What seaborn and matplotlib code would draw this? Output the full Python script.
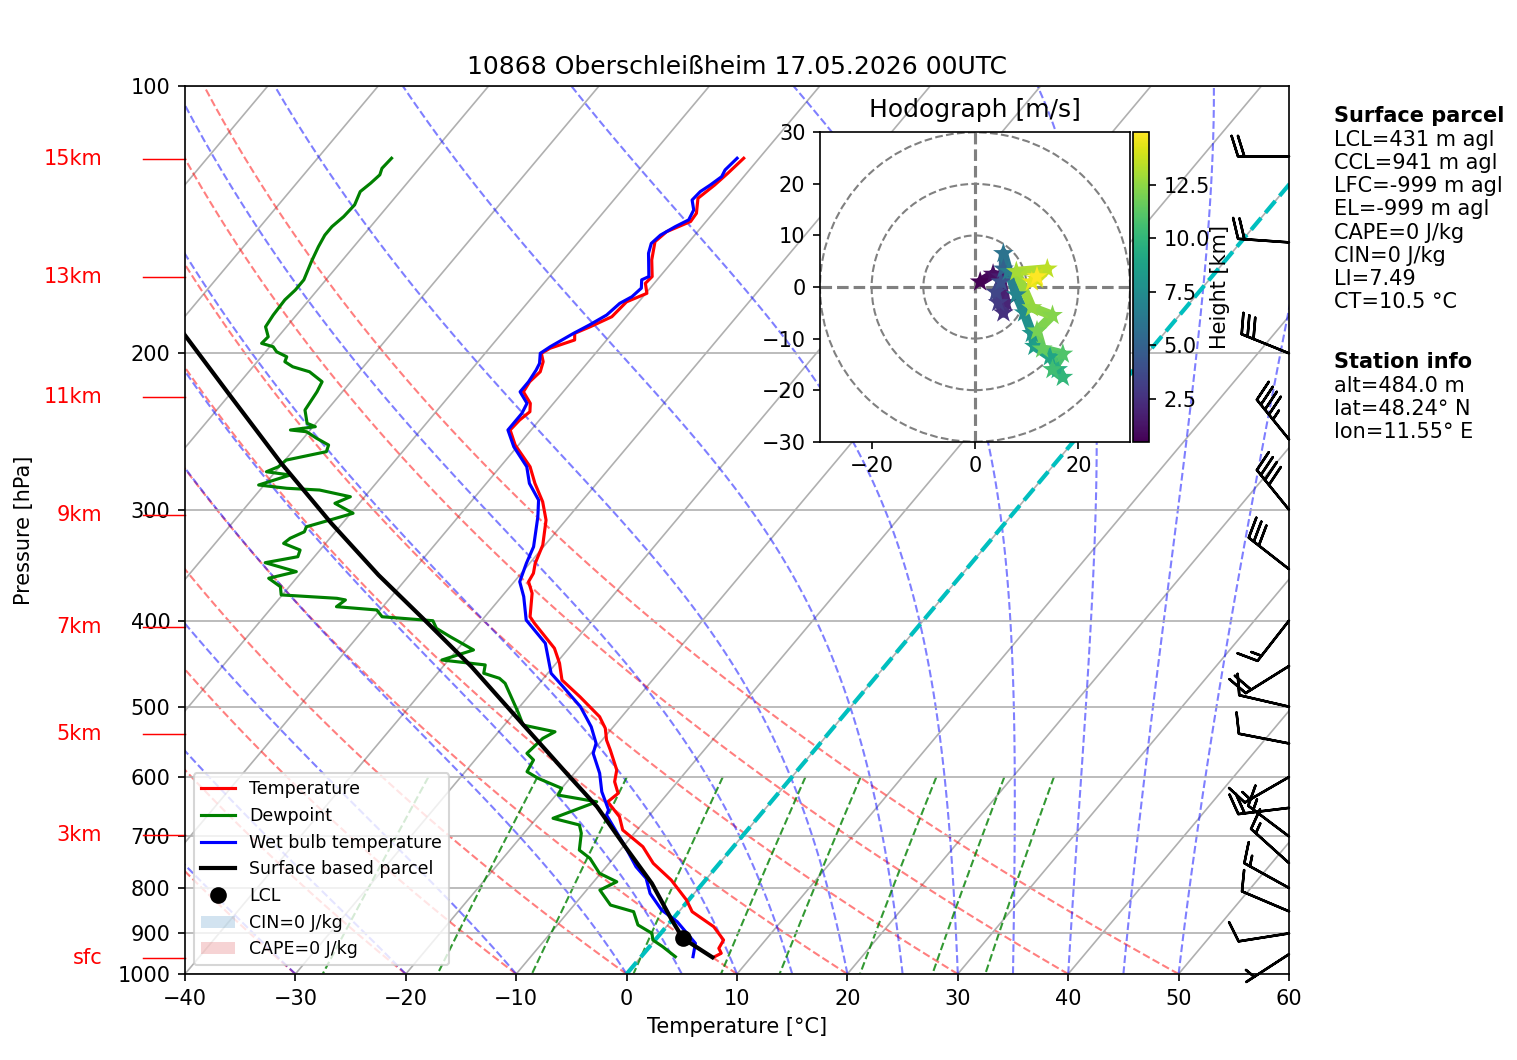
import numpy as np
import pandas as pd
import matplotlib
matplotlib.use("Agg")
import matplotlib.pyplot as plt
import matplotlib.transforms as mtransforms
from matplotlib.collections import LineCollection
from matplotlib.lines import Line2D
from matplotlib.patches import Patch, Circle
from matplotlib.colors import Normalize
from matplotlib.cm import ScalarMappable
import seaborn as sns

# ---------------------------------------------------------------- data
title = "10868 Oberschleißheim 17.05.2026 00UTC"

temp_p = [120.6, 125.4, 129.3, 133.8, 139.1, 142.1, 145.9, 149.7, 157.0, 163.9,
          166.8, 171.2, 175.0, 181.9, 186.7, 189.9, 193.2, 197.4, 200.0, 204.4,
          209.8, 215.3, 221.0, 227.7, 232.7, 237.8, 244.0, 253.7, 268.4, 280.2,
          293.9, 308.2, 328.8, 344.7, 353.8, 361.6, 372.6, 396.0, 402.8, 429.7,
          446.7, 466.6, 487.3, 513.2, 528.9, 545.2, 559.5, 589.2, 607.4, 626.0,
          639.8, 665.1, 688.4, 718.9, 750.5, 783.8, 825.4, 850.8, 884.6, 915.7,
          935.5, 947.7, 957.6]
temp_t = [-51.4, -51.7, -52.0, -52.5, -51.5, -51.4, -52.8, -53.1, -52.0, -50.7,
          -50.8, -49.9, -51.1, -51.3, -52.5, -53.4, -52.9, -54.5, -54.9, -54.1,
          -53.6, -53.8, -53.6, -52.1, -51.5, -51.8, -51.9, -50.3, -47.3, -45.6,
          -43.5, -41.8, -40.2, -39.5, -38.9, -38.7, -37.5, -35.9, -35.0, -31.3,
          -29.7, -28.2, -25.3, -22.0, -20.6, -19.6, -18.5, -16.4, -15.7, -14.5,
          -14.8, -12.6, -11.3, -8.2, -6.0, -3.1, -0.2, 1.2, 4.3, 6.2,
          6.4, 7.0, 6.6]

dewp_p = [120.6, 123.8, 125.9, 128.7, 131.5, 136.1, 140.3, 144.0, 147.2, 151.7,
          157.7, 165.3, 169.7, 174.1, 181.1, 186.7, 191.6, 194.9, 196.6, 199.2,
          201.8, 204.4, 207.1, 209.8, 215.3, 221.0, 231.7, 239.8, 241.9, 244.0,
          245.1, 249.3, 253.7, 258.1, 263.8, 268.4, 271.9, 274.2, 281.4, 283.8,
          285.1, 290.1, 295.1, 302.8, 308.2, 313.6, 317.7, 323.1, 327.4, 333.1,
          338.9, 344.2, 352.3, 358.4, 366.3, 374.2, 377.5, 379.1, 385.8, 389.1,
          396.0, 400.1, 408.1, 417.1, 431.6, 443.0, 448.7, 458.5, 464.5, 470.6,
          508.7, 524.4, 533.6, 542.8, 564.3, 574.1, 591.8, 602.0, 617.8, 628.8,
          639.8, 667.8, 679.5, 694.3, 725.2, 741.0, 770.3, 787.3, 804.4, 836.3,
          850.8, 880.6, 899.8, 915.7, 931.7, 956.1]
dewp_t = [-83.3, -83.4, -83.1, -83.3, -83.6, -83.1, -83.2, -83.5, -83.5, -83.2,
          -82.7, -82.0, -82.0, -82.2, -82.1, -81.9, -80.9, -81.0, -79.7, -79.0,
          -77.7, -77.5, -76.4, -74.5, -72.6, -72.3, -72.0, -70.8, -69.8, -71.8,
          -70.2, -68.8, -67.2, -66.9, -69.9, -70.1, -70.8, -68.4, -70.5, -67.7,
          -64.6, -61.3, -62.2, -59.8, -61.4, -63.0, -62.8, -63.6, -63.8, -61.8,
          -61.5, -64.0, -60.5, -62.5, -60.8, -60.1, -54.8, -53.9, -54.2, -50.3,
          -49.3, -44.4, -43.5, -41.6, -38.5, -40.6, -36.3, -35.8, -34.0, -33.1,
          -29.6, -28.3, -24.9, -25.5, -25.8, -24.7, -24.4, -22.9, -20.0, -19.8,
          -15.8, -18.5, -15.6, -14.8, -13.7, -12.1, -10.1, -7.9, -8.8, -6.7,
          -4.1, -2.7, -0.8, -0.2, 1.2, 3.1]

wetb_p = [120.6, 124.3, 126.5, 129.3, 131.5, 134.4, 137.9, 141.5, 144.0, 147.2,
          150.4, 154.3, 163.9, 165.3, 168.9, 172.7, 175.7, 181.1, 185.8, 189.9,
          196.6, 200.0, 205.3, 208.9, 215.3, 221.0, 227.7, 233.7, 244.0, 254.8,
          268.4, 280.2, 292.6, 305.5, 330.3, 344.7, 361.6, 375.9, 399.4, 424.2,
          458.5, 474.7, 500.0, 526.7, 549.8, 564.3, 594.2, 623.4, 653.6, 662.2,
          718.9, 757.2, 780.4, 811.4, 847.0, 873.1, 923.5, 956.1]
wetb_t = [-52.0, -52.2, -52.0, -52.4, -52.8, -52.9, -52.0, -51.7, -52.4, -53.1,
          -53.3, -52.8, -51.0, -51.4, -50.8, -51.0, -51.6, -51.9, -52.7, -53.5,
          -54.6, -55.0, -54.3, -54.1, -53.9, -53.9, -52.4, -52.1, -52.1, -50.3,
          -47.6, -46.1, -44.0, -42.8, -40.9, -40.3, -39.5, -38.0, -36.0, -32.5,
          -29.7, -27.6, -24.5, -22.0, -20.3, -19.8, -17.7, -16.1, -14.1, -13.9,
          -9.8, -7.3, -5.5, -4.0, -1.7, 0.6, 3.9, 4.7]

parcel_p = [957.6, 911.8, 869.5, 790.6, 718.9, 648.0, 594.2, 549.8, 508.7,
            450.8, 399.4, 355.4, 310.8, 266.0, 221.9, 190.7]
parcel_t = [6.5, 2.4, 0.0, -4.6, -9.8, -15.4, -20.7, -25.4, -30.1,
            -37.4, -45.2, -52.8, -61.0, -70.1, -80.2, -88.6]

lcl_p = 911.8
lcl_t = 2.4

barb_p = [120, 150, 200, 250, 300, 350, 400, 450, 500, 550,
          600, 650, 700, 750, 800, 850, 900, 950]
barb_dir = [270, 274, 292, 321, 321, 308, 218, 238, 283, 281,
            240, 263, 307, 312, 299, 293, 261, 237]
barb_spd = [20, 20, 30, 45, 40, 30, 15, 20, 10, 10,
            15, 20, 15, 15, 15, 10, 10, 5]

hodo_h = [0.48, 1.0, 1.5, 2.0, 2.5, 3.0, 3.5, 4.0, 5.0, 6.0, 6.5, 7.0, 7.5, 8.0,
          8.5, 9.0, 9.5, 10.0, 10.5, 11.0, 11.5, 12.0, 12.3, 12.6, 13.0, 13.5,
          14.0, 14.5, 14.97]
hodo_u = [1.0, 3.5, 5.0, 6.0, 5.5, 4.5, 4.0, 5.0, 5.5, 5.5, 6.5, 8.0, 9.5, 11.0,
          11.5, 14.5, 16.0, 17.0, 15.0, 17.0, 13.0, 12.0, 15.0, 11.0, 8.0, 14.0,
          12.0, 11.0, 12.0]
hodo_v = [1.0, 2.5, 2.0, -3.0, -5.0, -3.0, -1.0, 1.0, 3.5, 6.5, 3.0, -1.5, -5.0, -9.0,
          -11.5, -13.5, -16.0, -17.5, -16.0, -13.0, -12.0, -8.5, -5.5, -4.0, 3.0, 3.5,
          1.5, 1.0, 2.0]

height_labels = ["15km", "13km", "11km", "9km", "7km", "5km", "3km", "sfc"]
height_label_p = [120.8, 164.0, 224.0, 304.1, 406.6, 536.7, 697.2, 959.4]

parcel_info = ["LCL=431 m agl", "CCL=941 m agl", "LFC=-999 m agl", "EL=-999 m agl",
               "CAPE=0 J/kg", "CIN=0 J/kg", "LI=7.49", "CT=10.5 °C"]
station_info = ["alt=484.0 m", "lat=48.24° N", "lon=11.55° E"]

pressure_ticks = [1000, 900, 800, 700, 600, 500, 400, 300, 200, 100]
temp_ticks = [-40, -30, -20, -10, 0, 10, 20, 30, 40, 50, 60]

# ---------------------------------------------------------------- figure
W, H, DPI = 1517, 1060, 150
fig = plt.figure(figsize=(W / DPI, H / DPI), dpi=DPI)


def box(x0, y0, x1, y1):
    return [x0 / W, 1 - y1 / H, (x1 - x0) / W, (y1 - y0) / H]


ax = fig.add_axes(box(185, 86, 1289, 974))
ax.set_yscale("log")
ax.set_xlim(-40, 60)
ax.set_ylim(1000, 100)
ax.set_yticks(pressure_ticks)
ax.set_yticklabels([str(v) for v in pressure_ticks])
ax.yaxis.set_minor_locator(matplotlib.ticker.NullLocator())
ax.set_xticks(temp_ticks)
ax.yaxis.grid(True, color="#b0b0b0", lw=0.8)

# skew-T transform: skew in axes space (67.5 degC per pressure decade)
skew_tr = (ax.transScale + ax.transLimits
           + mtransforms.Affine2D().skew_deg(np.degrees(np.arctan(0.675)), 0)
           + ax.transAxes)

# isotherms
for t in np.arange(-110, 61, 10):
    ax.plot([t, t], [1000, 100], color="#b0b0b0", lw=0.8, transform=skew_tr, zorder=1)

Rd, Cp, Lv, eps = 287.04749, 1004.6662, 2.50084e6, 0.6219569
p_bg = np.linspace(1000, 100, 181)

# dry adiabats
t0_dry = np.arange(-40, 51, 10) + 273.15
dry = t0_dry[:, None] * (p_bg[None, :] / 1000.0) ** (Rd / Cp) - 273.15
ax.add_collection(LineCollection([np.column_stack([d, p_bg]) for d in dry],
                                 colors="r", linestyles="dashed", alpha=0.5,
                                 linewidths=1, transform=skew_tr, zorder=1),
                  autolim=False)


# moist adiabats
def es(tk):
    tc = tk - 273.15
    return 6.112 * np.exp(17.67 * tc / (tc + 243.5))


def dtdp(tk, p):
    e = es(tk)
    rs = eps * e / (p - e)
    return (Rd * tk + Lv * rs) / (Cp + Lv * Lv * rs * eps / (Rd * tk * tk)) / p


t0_moist = np.concatenate([np.arange(-40, 0, 10), np.arange(0, 51, 5)]) + 273.15
Tk = t0_moist.copy()
moist = [Tk.copy()]
for i in range(len(p_bg) - 1):
    p0, p1 = p_bg[i], p_bg[i + 1]
    h = p1 - p0
    k1 = dtdp(Tk, p0)
    k2 = dtdp(Tk + h / 2 * k1, p0 + h / 2)
    k3 = dtdp(Tk + h / 2 * k2, p0 + h / 2)
    k4 = dtdp(Tk + h * k3, p1)
    Tk = Tk + h / 6 * (k1 + 2 * k2 + 2 * k3 + k4)
    moist.append(Tk.copy())
moist = np.array(moist).T - 273.15
ax.add_collection(LineCollection([np.column_stack([m, p_bg]) for m in moist],
                                 colors="b", linestyles="dashed", alpha=0.5,
                                 linewidths=1, transform=skew_tr, zorder=1),
                  autolim=False)

# mixing ratio lines
w_mix = np.array([0.0004, 0.001, 0.002, 0.004, 0.007, 0.01, 0.016, 0.024, 0.032])
p_mix = np.linspace(600, 1000, 60)
e_mix = p_mix[None, :] * w_mix[:, None] / (eps + w_mix[:, None])
lne = np.log(e_mix / 6.112)
td_mix = 243.5 * lne / (17.67 - lne)
ax.add_collection(LineCollection([np.column_stack([m, p_mix]) for m in td_mix],
                                 colors="g", linestyles="dashed", alpha=0.8,
                                 linewidths=1, transform=skew_tr, zorder=1),
                  autolim=False)

# 0 degC isotherm
ax.plot([0, 0], [1000, 100], color="c", ls="--", lw=2, transform=skew_tr, zorder=2)

# profiles (seaborn)
profiles = [(temp_t, temp_p, "r", 1.5), (dewp_t, dewp_p, "g", 1.5),
            (wetb_t, wetb_p, "b", 1.5), (parcel_t, parcel_p, "k", 2.0)]
for tv, pv, col, lw in profiles:
    df = pd.DataFrame({"T": tv, "p": pv})
    sns.lineplot(data=df, x="T", y="p", sort=False, estimator=None, orient="y",
                 color=col, linewidth=lw, transform=skew_tr, ax=ax, legend=False,
                 zorder=3)
ax.plot([lcl_t], [lcl_p], "ko", ms=7, transform=skew_tr, zorder=4)

ax.set_xlim(-40, 60)
ax.set_ylim(1000, 100)

# wind barbs
bd = np.radians(barb_dir)
bu = -np.array(barb_spd) * np.sin(bd)
bv = -np.array(barb_spd) * np.cos(bd)
btr = mtransforms.blended_transform_factory(ax.transAxes, ax.transData)
ax.barbs(np.ones(len(barb_p)), barb_p, bu, bv, transform=btr, clip_on=False,
         length=7, color="k", linewidth=1.2, zorder=5)

# height labels
for lab, p in zip(height_labels, height_label_p):
    ax.text(-0.075, p, lab, transform=btr, color="r", ha="right", va="center",
            fontsize=10)
    ax.plot([-0.038, 0], [p, p], transform=btr, color="r", lw=0.7, clip_on=False)

ax.set_title(title, fontsize=12)
ax.set_xlabel("Temperature [°C]")
ax.set_ylabel("Pressure [hPa]")
ax.yaxis.set_label_coords(-0.137, 0.5)

handles = [Line2D([], [], color="r", lw=1.5, label="Temperature"),
           Line2D([], [], color="g", lw=1.5, label="Dewpoint"),
           Line2D([], [], color="b", lw=1.5, label="Wet bulb temperature"),
           Line2D([], [], color="k", lw=2.0, label="Surface based parcel"),
           Line2D([], [], color="k", marker="o", ls="none", ms=7, label="LCL"),
           Patch(facecolor="tab:blue", alpha=0.2, label="CIN=0 J/kg"),
           Patch(facecolor="tab:red", alpha=0.2, label="CAPE=0 J/kg")]
ax.legend(handles=handles, loc="lower left", fontsize="small")

# ---------------------------------------------------------------- hodograph
axh = fig.add_axes(box(820, 132.3, 1130, 441.7))
axh.set_xlim(-30, 30)
axh.set_ylim(-30, 30)
for r in (10, 20, 30):
    axh.add_patch(Circle((0, 0), r, fill=False, edgecolor="grey", ls="--", lw=1))
axh.axhline(0, color="grey", ls="--", lw=1.5)
axh.axvline(0, color="grey", ls="--", lw=1.5)
axh.set_xticks([-20, 0, 20])
axh.set_yticks([-30, -20, -10, 0, 10, 20, 30])
axh.set_title("Hodograph [m/s]", fontsize=12, pad=7.5)

norm = Normalize(vmin=min(hodo_h), vmax=max(hodo_h))
cmap = plt.get_cmap("viridis")
hu, hv, hh = np.array(hodo_u), np.array(hodo_v), np.array(hodo_h)
segs = [np.array([[hu[i], hv[i]], [hu[i + 1], hv[i + 1]]]) for i in range(len(hu) - 1)]
lc = LineCollection(segs, colors=cmap(norm((hh[:-1] + hh[1:]) / 2)), linewidths=4.5,
                    capstyle="round", zorder=3)
axh.add_collection(lc, autolim=False)
sns.scatterplot(x=hodo_u, y=hodo_v, hue=hodo_h, palette="viridis", hue_norm=norm,
                marker="*", s=110, linewidth=0, legend=False, ax=axh, zorder=4)
axh.set_xlim(-30, 30)
axh.set_ylim(-30, 30)
axh.set_xlabel("")
axh.set_ylabel("")

cax = fig.add_axes(box(1133.3, 132.3, 1149, 441.7))
cb = fig.colorbar(ScalarMappable(norm=norm, cmap=cmap), cax=cax)
cb.set_ticks([2.5, 5.0, 7.5, 10.0, 12.5])
cb.set_label("Height [km]", labelpad=0)

# ---------------------------------------------------------------- side text
fx = 1334 / W
y0 = 122.3
fig.text(fx, 1 - y0 / H, "Surface parcel", fontweight="bold", fontsize=10, va="baseline")
for i, s in enumerate(parcel_info):
    fig.text(fx, 1 - (y0 + 23.25 * (i + 1)) / H, s, fontsize=10, va="baseline")
y1 = 368.3
fig.text(fx, 1 - y1 / H, "Station info", fontweight="bold", fontsize=10, va="baseline")
for i, s in enumerate(station_info):
    fig.text(fx, 1 - (y1 + 23.25 * (i + 1)) / H, s, fontsize=10, va="baseline")

fig.savefig("out.png", dpi=DPI)
